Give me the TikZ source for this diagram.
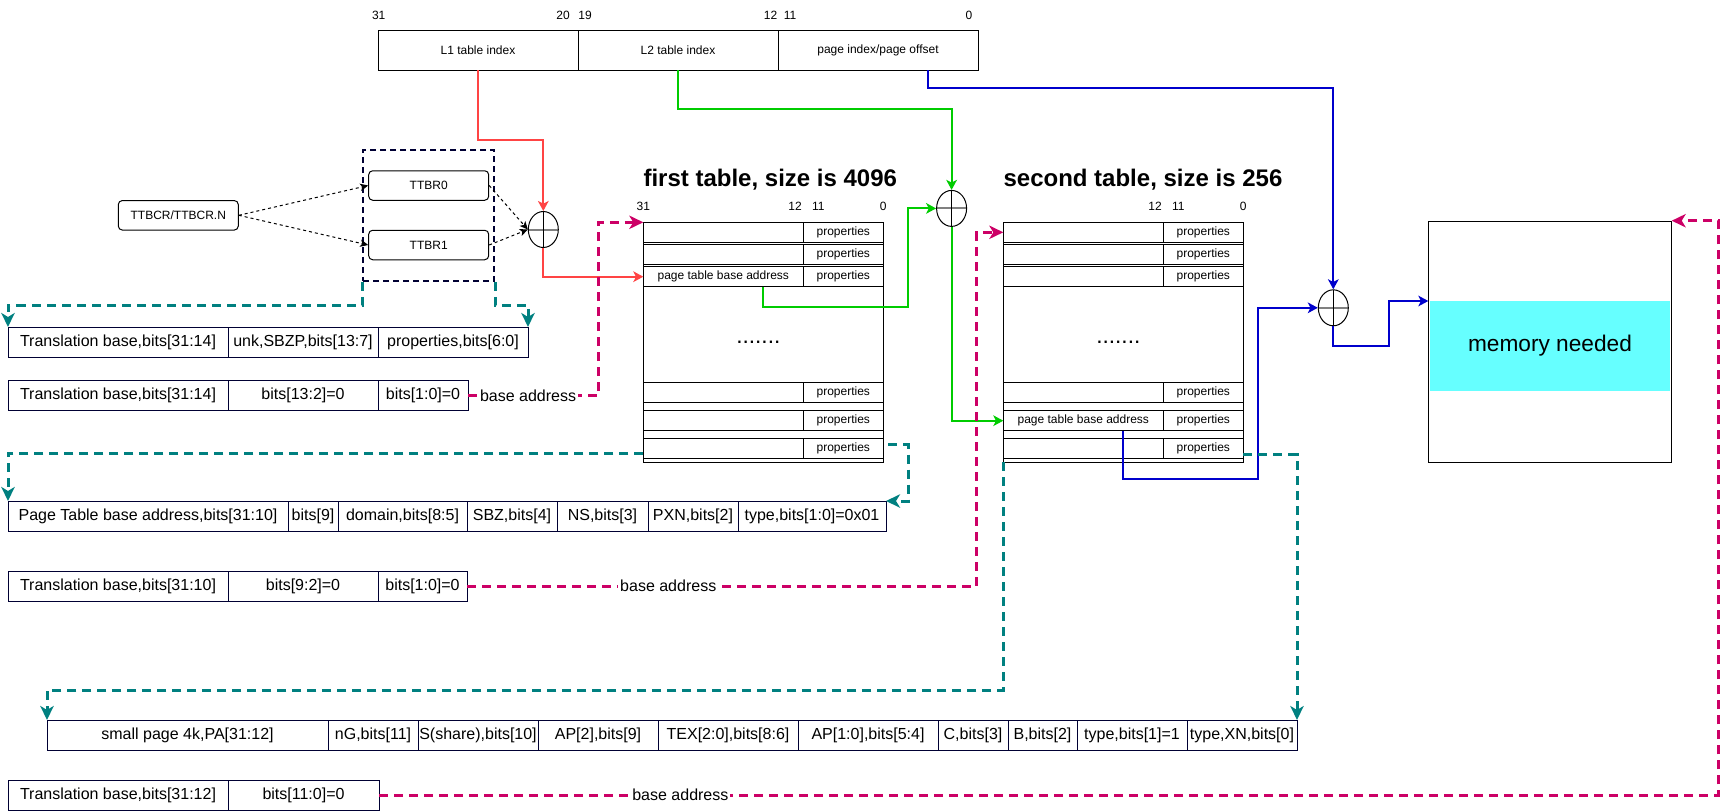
\documentclass[tikz,border=0pt]{standalone}
\usepackage{fontspec}
\setmainfont{Liberation Sans}
\usepackage{tikz}
\usetikzlibrary{arrows.meta}
\usetikzlibrary{calc}
\usetikzlibrary{fit}
\usetikzlibrary{positioning}
\usetikzlibrary{shapes.geometric}

\newlength{\pxunit}
\setlength{\pxunit}{0.75pt}

\newcommand{\labelfont}{\fontsize{9}{11}\selectfont}
\newcommand{\fieldfont}{\fontsize{12}{14}\selectfont}
\newcommand{\titlefont}{\fontsize{18}{21}\selectfont\bfseries}
\newcommand{\memfont}{\fontsize{17}{20}\selectfont}

\definecolor{navyline}{RGB}{0,0,51}
\definecolor{lonered}{RGB}{255,68,68}
\definecolor{ltwogreen}{RGB}{0,204,0}
\definecolor{offsetblue}{RGB}{0,0,204}
\definecolor{descteal}{RGB}{0,128,128}
\definecolor{basemagenta}{RGB}{204,0,102}
\definecolor{memcyan}{RGB}{102,255,255}

\tikzset{
  field/.style={draw=navyline,line width=0.75pt,rectangle,inner sep=0pt,outer sep=0pt,
    minimum height=30\pxunit,font=\fieldfont},
  vaddr/.style={draw,line width=0.75pt,rectangle,inner sep=0pt,outer sep=0pt,
    minimum width=200\pxunit,minimum height=40\pxunit,font=\labelfont},
  tbl/.style={draw,line width=0.75pt,rectangle,inner sep=0pt,outer sep=0pt,
    minimum width=240\pxunit,minimum height=240\pxunit},
  entry/.style={draw,line width=0.75pt,rectangle,inner sep=0pt,outer sep=0pt,
    minimum height=20\pxunit,font=\labelfont},
  entryl/.style={entry,minimum width=160\pxunit},
  entryr/.style={entry,minimum width=80\pxunit},
  bitnum/.style={inner sep=0pt,font=\labelfont},
  tabletitle/.style={inner sep=0pt,font=\titlefont},
  regbox/.style={draw,line width=0.75pt,rounded corners=3pt,minimum width=120\pxunit,
    minimum height=29.5\pxunit,inner sep=0pt,font=\labelfont},
  selbox/.style={draw=navyline,line width=1.5pt,dash pattern=on 4.5pt off 3pt,
    inner xsep=5\pxunit,inner ysep=20.5\pxunit},
  adder/.style={draw,line width=0.75pt,ellipse,minimum width=30\pxunit,minimum height=36\pxunit,
    inner sep=0pt,
    path picture={
      \draw [gray,line width=1.5pt] (path picture bounding box.west) -- (path picture bounding box.east);
      \draw [line width=0.75pt] (path picture bounding box.north) -- (path picture bounding box.south);
    }},
  memband/.style={fill=memcyan,minimum width=240.4\pxunit,minimum height=89.7\pxunit,
    inner sep=0pt,font=\memfont},
  midtip/.style={-{Stealth[length=7.5pt,width=8pt,inset=2pt]}},
  bigtip/.style={-{Stealth[length=10.5pt,width=10pt,inset=3pt]}},
  redline/.style={midtip,draw=lonered,line width=1.5pt},
  greenline/.style={midtip,draw=ltwogreen,line width=1.5pt},
  blueline/.style={midtip,draw=offsetblue,line width=1.5pt},
  selarrow/.style={-{Stealth[length=6pt,width=5.5pt,inset=1.5pt]},draw,line width=0.75pt,
    dash pattern=on 2.25pt off 2.25pt},
  descarrow/.style={bigtip,draw=descteal,line width=2.25pt,dash pattern=on 6.75pt off 4.5pt},
  basearrow/.style={bigtip,draw=basemagenta,line width=2.25pt,dash pattern=on 6.75pt off 4.5pt},
  baselabel/.style={fill=white,text=black,inner sep=1.5pt,font=\fieldfont}
}

\begin{document}
\begin{tikzpicture}[x=0.75pt,y=-0.75pt]
  \useasboundingbox (0,0) rectangle (1729,811);

  % virtual address
  \node [vaddr,anchor=north west] (l1idx) at (378,30) {L1 table index};
  \node [vaddr,right=0pt of l1idx] (l2idx) {L2 table index};
  \node [vaddr,right=0pt of l2idx] (pgidx) {page index/page offset};

  \node [bitnum] (v31) at (378.7,15) {31};
  \node [bitnum] (v20) at (563,15) {20};
  \node [bitnum] (v19) at (585,15) {19};
  \node [bitnum] (v12) at (770.5,15) {12};
  \node [bitnum] (v11) at (790,15) {11};
  \node [bitnum] (v0) at (969,15) {0};

  % TTBR selection
  \node [regbox] (ttbcr) at (178.3,215.3) {TTBCR/TTBCR.N};
  \node [regbox] (ttbr0) at (428.7,185.5) {TTBR0};
  \node [regbox] (ttbr1) at (428.7,245) {TTBR1};
  \node [selbox,fit=(ttbr0) (ttbr1)] (ttbrbox) {};

  \node [adder] (add1) at (543.3,229.5) {};
  \node [adder] (add2) at (951.6,208.4) {};
  \node [adder] (add3) at (1333.3,307.8) {};

  % first table
  \node [tabletitle,anchor=west] (t1title) at (643.3,180) {first table, size is 4096};
  \node [tbl,anchor=north west] (t1) at (643.3,222.3) {};
  \node [bitnum] (t1b31) at ($(t1.north west)+(0,-15.6)$) {31};
  \node [bitnum] (t1b12) at ($(t1.north west)+(151.7,-15.6)$) {12};
  \node [bitnum] (t1b11) at ($(t1.north west)+(175,-15.6)$) {11};
  \node [bitnum] (t1b0) at ($(t1.north west)+(240,-15.6)$) {0};
  \node [entryl,anchor=north west] (t1r1a) at (t1.north west) {};
  \node [entryr,right=0pt of t1r1a] (t1r1b) {properties};
  \node [entryl,anchor=north west] (t1r2a) at ($(t1.north west)+(0,22.2)$) {};
  \node [entryr,right=0pt of t1r2a] (t1r2b) {properties};
  \node [entryl,anchor=north west] (t1r3a) at ($(t1.north west)+(0,44.4)$) {page table base address};
  \node [entryr,right=0pt of t1r3a] (t1r3b) {properties};
  \node [entryl,anchor=north west] (t1r4a) at ($(t1.north west)+(0,160)$) {};
  \node [entryr,right=0pt of t1r4a] (t1r4b) {properties};
  \node [entryl,anchor=north west] (t1r5a) at ($(t1.north west)+(0,188.4)$) {};
  \node [entryr,right=0pt of t1r5a] (t1r5b) {properties};
  \node [entryl,anchor=north west] (t1r6a) at ($(t1.north west)+(0,216.4)$) {};
  \node [entryr,right=0pt of t1r6a] (t1r6b) {properties};
  \node [font=\memfont,inner sep=0pt] (t1dots) at ($(t1.center)+(-5,0)$) {.......};

  % second table
  \node [tabletitle,anchor=west] (t2title) at (1003.3,180) {second table, size is 256};
  \node [tbl,anchor=north west] (t2) at (1003.3,222.3) {};
  \node [bitnum] (t2b12) at ($(t2.north west)+(151.7,-15.6)$) {12};
  \node [bitnum] (t2b11) at ($(t2.north west)+(175,-15.6)$) {11};
  \node [bitnum] (t2b0) at ($(t2.north west)+(240,-15.6)$) {0};
  \node [entryl,anchor=north west] (t2r1a) at (t2.north west) {};
  \node [entryr,right=0pt of t2r1a] (t2r1b) {properties};
  \node [entryl,anchor=north west] (t2r2a) at ($(t2.north west)+(0,22.2)$) {};
  \node [entryr,right=0pt of t2r2a] (t2r2b) {properties};
  \node [entryl,anchor=north west] (t2r3a) at ($(t2.north west)+(0,44.4)$) {};
  \node [entryr,right=0pt of t2r3a] (t2r3b) {properties};
  \node [entryl,anchor=north west] (t2r4a) at ($(t2.north west)+(0,160)$) {};
  \node [entryr,right=0pt of t2r4a] (t2r4b) {properties};
  \node [entryl,anchor=north west] (t2r5a) at ($(t2.north west)+(0,188.4)$) {page table base address};
  \node [entryr,right=0pt of t2r5a] (t2r5b) {properties};
  \node [entryl,anchor=north west] (t2r6a) at ($(t2.north west)+(0,216.4)$) {};
  \node [entryr,right=0pt of t2r6a] (t2r6b) {properties};
  \node [font=\memfont,inner sep=0pt] (t2dots) at ($(t2.center)+(-5,0)$) {.......};

  % memory
  \node [draw,line width=0.75pt,minimum width=242.4\pxunit,minimum height=241.6\pxunit,
    inner sep=0pt,anchor=north west] (mem) at (1428.3,220.7) {};
  \node [memband,anchor=north] (memband) at ($(mem.north)+(0,80.3)$) {memory needed};
  \coordinate (memin) at (mem.west |- memband.north);

  % descriptor formats
  \node [field,minimum width=220\pxunit,anchor=north west] (ra1) at (8,327) {Translation base,bits[31:14]};
  \node [field,minimum width=150\pxunit,right=0pt of ra1] (ra2) {unk,SBZP,bits[13:7]};
  \node [field,minimum width=150\pxunit,right=0pt of ra2] (ra3) {properties,bits[6:0]};

  \node [field,minimum width=220\pxunit,anchor=north west] (rb1) at (8,380.5) {Translation base,bits[31:14]};
  \node [field,minimum width=150\pxunit,right=0pt of rb1] (rb2) {bits[13:2]=0};
  \node [field,minimum width=90\pxunit,right=0pt of rb2] (rb3) {bits[1:0]=0};

  \node [field,minimum width=280\pxunit,anchor=north west] (rc1) at (8,501) {Page Table base address,bits[31:10]};
  \node [field,minimum width=50\pxunit,right=0pt of rc1] (rc2) {bits[9]};
  \node [field,minimum width=129\pxunit,right=0pt of rc2] (rc3) {domain,bits[8:5]};
  \node [field,minimum width=90\pxunit,right=0pt of rc3] (rc4) {SBZ,bits[4]};
  \node [field,minimum width=91\pxunit,right=0pt of rc4] (rc5) {NS,bits[3]};
  \node [field,minimum width=90\pxunit,right=0pt of rc5] (rc6) {PXN,bits[2]};
  \node [field,minimum width=148\pxunit,right=0pt of rc6] (rc7) {type,bits[1:0]=0x01};

  \node [field,minimum width=220\pxunit,anchor=north west] (rd1) at (8,571) {Translation base,bits[31:10]};
  \node [field,minimum width=150\pxunit,right=0pt of rd1] (rd2) {bits[9:2]=0};
  \node [field,minimum width=89\pxunit,right=0pt of rd2] (rd3) {bits[1:0]=0};

  \node [field,minimum width=281\pxunit,anchor=north west] (re1) at (47,720) {small page 4k,PA[31:12]};
  \node [field,minimum width=90\pxunit,right=0pt of re1] (re2) {nG,bits[11]};
  \node [field,minimum width=120\pxunit,right=0pt of re2] (re3) {S(share),bits[10]};
  \node [field,minimum width=120\pxunit,right=0pt of re3] (re4) {AP[2],bits[9]};
  \node [field,minimum width=140\pxunit,right=0pt of re4] (re5) {TEX[2:0],bits[8:6]};
  \node [field,minimum width=140\pxunit,right=0pt of re5] (re6) {AP[1:0],bits[5:4]};
  \node [field,minimum width=70\pxunit,right=0pt of re6] (re7) {C,bits[3]};
  \node [field,minimum width=69\pxunit,right=0pt of re7] (re8) {B,bits[2]};
  \node [field,minimum width=110\pxunit,right=0pt of re8] (re9) {type,bits[1]=1};
  \node [field,minimum width=110\pxunit,right=0pt of re9] (re10) {type,XN,bits[0]};

  \node [field,minimum width=220\pxunit,anchor=north west] (rf1) at (8,780) {Translation base,bits[31:12]};
  \node [field,minimum width=151\pxunit,right=0pt of rf1] (rf2) {bits[11:0]=0};

  % index paths
  \draw [redline] (l1idx.south) -- ++(0,70) -| (add1.north);
  \draw [redline] (add1.south) |- (t1r3a.west);

  \draw [greenline] (l2idx.south) -- ++(0,39) -| (add2.north);
  \draw [greenline] ($(t1r3a.south)+(40,0)$) -- ++(0,20) -| ($(add2.west)+(-28.3,0)$) -- (add2.west);
  \draw [greenline] (add2.south) |- (t2r5a.west);

  \draw [blueline] ($(pgidx.south)+(50,0)$) -- ++(0,18) -| (add3.north);
  \draw [blueline] ($(t2r5a.south)+(40,0)$) -- ++(0,48) -| ($(add3.west)+(-60,0)$) -- (add3.west);
  \draw [blueline] (add3.south) -- ++(0,19.2) -| ($(memin)+(-39,0)$) -- (memin);

  \draw [selarrow] (ttbcr.east) -- (ttbr0.west);
  \draw [selarrow] (ttbcr.east) -- (ttbr1.west);
  \draw [selarrow] (ttbr0.east) -- (add1.west);
  \draw [selarrow] (ttbr1.east) -- (add1.west);

  % descriptor formats
  \draw [descarrow] (ttbrbox.south west) -- ++(0,23.3) -| (ra1.north west);
  \draw [descarrow] (ttbrbox.south east) -- ++(0,23.3) -| (ra3.north east);
  \draw [descarrow] ($(t1r6a.west)+(0,5)$) -| (rc1.north west);
  \draw [descarrow] ($(t1r6b.east)+(5,-4)$) -- ++(20,0) |- (rc7.north east);
  \draw [descarrow] (t2.south west) -- ++(0,228) -| (re1.north west);
  \draw [descarrow] ($(t2r6b.east)+(0,6)$) -| (re10.north east);

  % base addresses
  \draw [basearrow] (rb3.east) -- node [baselabel,pos=0.46] (ba1) {base address} ++(130.5,0) |- (t1.north west);
  \draw [basearrow] (rd3.east) -- node [baselabel,pos=0.395] (ba2) {base address} ++(509.5,0) |- (t2r1a.west);
  \draw [basearrow] (rf2.east) -- node [baselabel,pos=0.225] (ba3) {base address} ++(1339.4,0) |- (mem.north east);

\end{tikzpicture}
\end{document}
